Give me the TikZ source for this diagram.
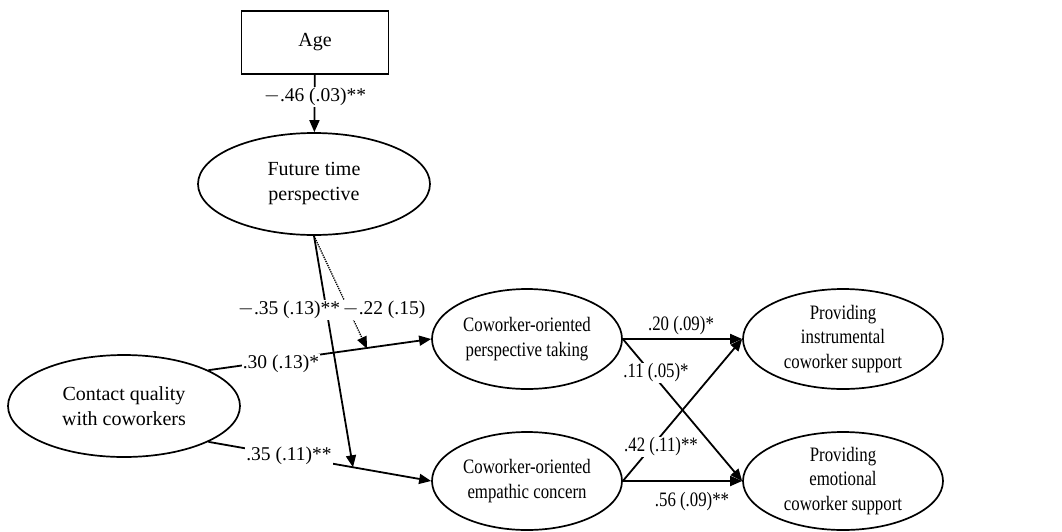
\documentclass[tikz,border=0pt]{standalone}
\usepackage{fontspec}
\setmainfont{Liberation Serif}
\newfontfamily\condfont[FakeStretch=0.82]{Liberation Serif}
\usetikzlibrary{arrows.meta,shapes.geometric}
\begin{document}
\begin{tikzpicture}[x=1pt,y=-1pt,
  every node/.style={font=\fontsize{20}{25}\selectfont},
  lat/.style={draw, ellipse, line width=1.7pt, align=center, inner sep=0pt},
  leftlat/.style={lat, minimum width=232pt, minimum height=102pt},
  rightlat/.style={lat, font=\condfont\fontsize{20.5}{24.5}\selectfont},
  obs/.style={draw, rectangle, line width=1.7pt, minimum width=147pt, minimum height=63pt},
  conn/.style={line width=1.8pt, -{Triangle[length=12pt,width=10pt]}},
  modl/.style={line width=1.3pt, densely dotted, -{Triangle[length=12pt,width=10pt]}},
  lab/.style={fill=white, inner sep=1pt, font=\fontsize{19.5}{24}\selectfont},
  rlab/.style={fill=white, inner sep=1pt, font=\condfont\fontsize{20.5}{24}\selectfont}
]
\useasboundingbox (0,0) rectangle (1062,531);

% nodes
\node[obs] (age) at (315,42.5) {Age};
\node[leftlat] (ftp) at (314,184) {Future time\\perspective};
\node[leftlat] (cq) at (124,406) {Contact quality\\with coworkers};
\node[rightlat, minimum width=190pt, minimum height=100pt] (pt) at (527,339) {Coworker-oriented\\perspective taking};
\node[rightlat, minimum width=190pt, minimum height=98pt] (ec) at (527,481) {Coworker-oriented\\empathic concern};
\node[rightlat, minimum width=200pt, minimum height=100pt] (ins) at (843,339) {Providing\\instrumental\\coworker support};
\node[rightlat, minimum width=200pt, minimum height=98pt] (emo) at (843,481) {Providing\\emotional\\coworker support};

% moderation points
\coordinate (m1) at (367,348.7);
\coordinate (m2) at (353,467.3);

% connectors
\draw[conn] (age) -- (ftp);
\draw[conn] (cq.23) -- (pt.west);
\draw[conn] (cq.-23) -- (ec.west);
\draw[conn] (ftp.south) -- (m2);
\draw[modl] (ftp.south) -- (m1);
\draw[conn] (pt.east) -- (ins.west);
\draw[conn] (pt.east) -- (emo.west);
\draw[conn] (ec.east) -- (ins.west);
\draw[conn] (ec.east) -- (emo.west);

% labels
\node[lab] (l46) at (315,97) {$-$.46 (.03)**};
\node[lab] (l35a) at (289,310) {$-$.35 (.13)**};
\node[lab] (l22) at (384,310) {$-$.22 (.15)};
\node[lab] (l30) at (281,364) {.30 (.13)*};
\node[lab] (l35b) at (289,456) {.35 (.11)**};
\node[rlab] (l20) at (681,326) {.20 (.09)*};
\node[rlab] (l11) at (656,373) {.11 (.05)*};
\node[rlab] (l42) at (661,447) {.42 (.11)**};
\node[rlab] (l56) at (692,502) {.56 (.09)**};
\end{tikzpicture}
\end{document}
